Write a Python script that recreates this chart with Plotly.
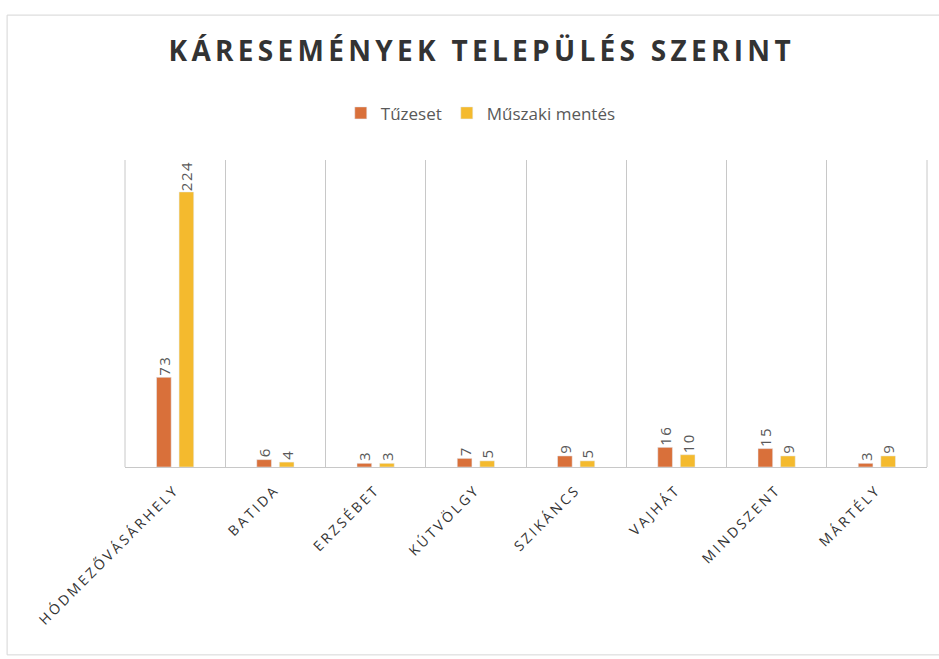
import plotly.graph_objects as go

categories = ["HÓDMEZŐVÁSÁRHELY", "BATIDA", "ERZSÉBET", "KÚTVÖLGY",
              "SZIKÁNCS", "VAJHÁT", "MINDSZENT", "MÁRTÉLY"]
tuzeset = [73, 6, 3, 7, 9, 16, 15, 3]
muszaki = [224, 4, 3, 5, 5, 10, 9, 9]

label_font = dict(family="Open Sans", size=15, color="#595959")

fig = go.Figure()
fig.add_trace(go.Bar(
    name="Tűzeset", x=categories, y=tuzeset,
    marker_color="#D9703A",
    text=tuzeset, textposition="outside", textangle=-90,
    textfont=label_font, constraintext="none",
    cliponaxis=False,
))
fig.add_trace(go.Bar(
    name="Műszaki mentés", x=categories, y=muszaki,
    marker_color="#F4BA2E",
    text=muszaki, textposition="outside", textangle=-90,
    textfont=label_font, constraintext="none",
    cliponaxis=False,
))

fig.update_layout(
    width=939, height=659,
    paper_bgcolor="white", plot_bgcolor="white",
    margin=dict(l=125, r=12, t=160, b=192, autoexpand=False),
    barmode="group", bargap=0.55, bargroupgap=0.35,
    title=dict(
        text="KÁRESEMÉNYEK TELEPÜLÉS SZERINT",
        x=0.513, xanchor="center", y=0.923, yanchor="middle",
        xref="container", yref="container",
        font=dict(family="Open Sans", size=28, color="#333333", weight=700),
    ),
    legend=dict(
        orientation="h", x=0.512, xanchor="center", y=0.828, yanchor="middle",
        xref="container", yref="container",
        font=dict(family="Open Sans", size=17, color="#595959"),
        itemwidth=30, traceorder="normal",
    ),
    showlegend=True,
    xaxis=dict(
        type="category", tickson="boundaries", showgrid=True,
        gridcolor="#C8C8C8", gridwidth=1,
        showline=True, linecolor="#C8C8C8", mirror=False,
        ticks="", tickangle=-45, automargin=False,
        ticklabelstandoff=8,
        tickfont=dict(family="Open Sans", size=14, color="#333333"),
    ),
    yaxis=dict(
        range=[0, 250], showgrid=False, showticklabels=False,
        zeroline=False, showline=False, automargin=False,
    ),
)

for xv in (0.0, 1.0):
    fig.add_shape(type="line", xref="paper", yref="paper",
                  x0=xv, x1=xv, y0=0, y1=1, line=dict(color="#C8C8C8", width=1))

# outer chart frame (faint)
fig.add_shape(type="rect", xref="paper", yref="paper",
              x0=-0.147, x1=1.03, y0=-0.612, y1=1.472,
              line=dict(color="#D6D6D6", width=1), layer="below")

post = """
document.body.style.margin = '0';
var gd = document.getElementById('{plot_id}');
function spacing() {
  gd.querySelectorAll('.xtick text').forEach(function (t) { t.style.letterSpacing = '2.8px'; });
  gd.querySelectorAll('.gtitle').forEach(function (t) { t.style.letterSpacing = '4.3px'; });
  gd.querySelectorAll('.bartext').forEach(function (t) { t.style.letterSpacing = '1.5px'; });
}
spacing();
if (gd.on) { gd.on('plotly_afterplot', spacing); }
"""

fig.write_html("out.html", post_script=post, config={"displayModeBar": False})
